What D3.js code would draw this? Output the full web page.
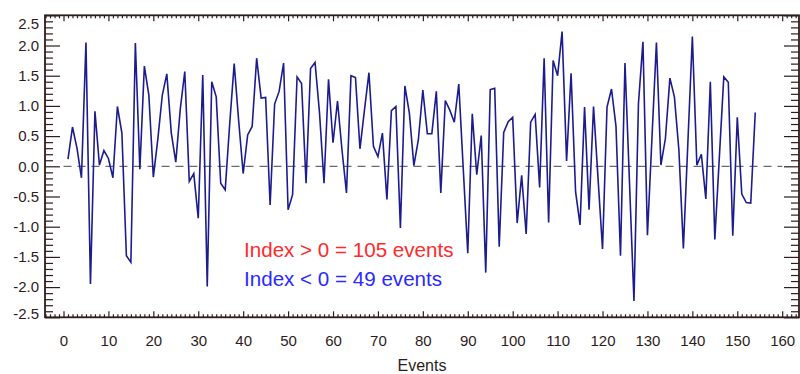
<!DOCTYPE html>
<html>
<head>
<meta charset="utf-8">
<script src="https://cdn.jsdelivr.net/npm/d3@7"></script>
<style>
  body { margin: 0; background: #fff; }
  svg { display: block; font-family: "Liberation Sans", Arial, sans-serif; }
  .tick text { fill: #2e1c1c; font-size: 15px; }
  .tick line { stroke: #2e1c1c; stroke-width: 1.2; }
</style>
</head>
<body>
<svg id="chart" width="800" height="374"></svg>
<script>
// index value per event (events 1..154)
const indexValues = [
  0.12, 0.65, 0.3, -0.19, 2.05, -1.95, 0.91, 0.02, 0.26, 0.13,
  -0.19, 0.99, 0.55, -1.48, -1.59, 2.04, -0.05, 1.66, 1.18, -0.18,
  0.45, 1.18, 1.53, 0.55, 0.07, 0.95, 1.57, -0.25, -0.12, -0.86,
  1.51, -1.99, 1.4, 1.15, -0.28, -0.39, 0.7, 1.7, 0.75, -0.12,
  0.52, 0.66, 1.79, 1.13, 1.14, -0.64, 1.03, 1.24, 1.71, -0.72,
  -0.47, 1.48, 1.37, -0.28, 1.62, 1.72, 0.88, -0.28, 1.44, 0.39,
  1.08, 0.27, -0.44, 1.5, 1.47, 0.29, 0.93, 1.55, 0.33, 0.16,
  0.55, -0.55, 0.92, 0.99, -1.02, 1.33, 0.88, 0.01, 0.44, 1.26,
  0.54, 0.54, 1.24, -0.44, 1.09, 0.93, 0.73, 1.36, -0.05, -1.44,
  0.87, -0.14, 0.51, -1.76, 1.27, 1.29, -1.33, 0.56, 0.74, 0.81,
  -0.94, -0.15, -1.12, 0.73, 0.86, -0.35, 1.79, -0.93, 1.75, 1.5,
  2.23, 0.09, 1.54, -0.42, -0.97, 0.98, -0.72, 0.99, -0.2, -1.37,
  0.98, 1.28, 0.66, -1.48, 1.71, -0.26, -2.23, 1.04, 2.06, -1.14,
  0.46, 2.05, 0.02, 0.46, 1.46, 1.15, 0.27, -1.36, 0.39, 2.15,
  0.02, 0.2, -0.54, 1.4, -1.21, 0.14, 1.48, 1.39, -1.15, 0.81,
  -0.46, -0.6, -0.61, 0.89
];
const xTicks = [0, 10, 20, 30, 40, 50, 60, 70, 80, 90, 100, 110, 120, 130, 140, 150, 160];
const yTicks = [-2.5, -2.0, -1.5, -1.0, -0.5, 0.0, 0.5, 1.0, 1.5, 2.0, 2.5];
const xMinor = d3.range(-4, 164, 1);
const yMinor = d3.range(-25, 26, 1).map(d => d / 10);
const annotations = ["Index > 0 = 105 events", "Index < 0 = 49 events"];

function buildChart() {
    const left = 45, right = 799, top = 15.3, bottom = 317.3;
    const svg = d3.select("#chart");

    // 0 -> 63.5px, 160 -> 782.2px
    const xs = d3.scaleLinear().domain([0, 160]).range([63.5, 782.2]);
    const ys = d3.scaleLinear().domain([-2.5, 2.5]).range([bottom, top]);
    const xMin = xs.invert(left), xMax = xs.invert(right);
    const xMinorIn = xMinor.filter(d => d > xMin && d < xMax && d % 10 != 0);
    const yMinorIn = yMinor.filter(d => Math.round(d * 10) % 5 != 0);

    // zero line
    svg.append("line")
       .attr("x1", xs(0)).attr("x2", xs(160))
       .attr("y1", ys(0)).attr("y2", ys(0))
       .attr("stroke", "#6b6b6b").attr("stroke-width", 1.2)
       .attr("stroke-dasharray", "8,6");

    // data line
    const line = d3.line().x((d, i) => xs(i + 1)).y(d => ys(d));
    svg.append("path").attr("d", line(indexValues))
       .attr("fill", "none").attr("stroke", "#1c1c8e").attr("stroke-width", 1.6)
       .attr("stroke-linejoin", "miter");

    // axes
    const strip = g => g.select(".domain").remove();
    svg.append("g").attr("transform", `translate(${left},0)`)
       .call(d3.axisLeft(ys).tickValues(yMinorIn).tickSize(-8).tickFormat("")).call(strip);
    svg.append("g").attr("transform", `translate(${left},0)`)
       .call(d3.axisLeft(ys).tickValues(yTicks).tickSize(-15).tickPadding(6).tickFormat(d => d.toFixed(1)))
       .call(strip)
       .call(g => g.selectAll("text").attr("y", d => d == 2.5 ? 8 : d == -2.5 ? -4 : 0));
    svg.append("g").attr("transform", `translate(${right},0)`)
       .call(d3.axisRight(ys).tickValues(yMinorIn).tickSize(-8).tickFormat("")).call(strip);
    svg.append("g").attr("transform", `translate(${right},0)`)
       .call(d3.axisRight(ys).tickValues(yTicks).tickSize(-15).tickFormat("")).call(strip);

    svg.append("g").attr("transform", `translate(0,${bottom})`)
       .call(d3.axisBottom(xs).tickValues(xMinorIn).tickSize(-3).tickFormat("")).call(strip);
    svg.append("g").attr("transform", `translate(0,${bottom})`)
       .call(d3.axisBottom(xs).tickValues(xTicks).tickSize(-6).tickPadding(18).tickFormat(d3.format("d")))
       .call(strip);
    svg.append("g").attr("transform", `translate(0,${top})`)
       .call(d3.axisTop(xs).tickValues(xMinorIn).tickSize(-3).tickFormat("")).call(strip);
    svg.append("g").attr("transform", `translate(0,${top})`)
       .call(d3.axisTop(xs).tickValues(xTicks).tickSize(-6).tickFormat("")).call(strip);

    // frame
    svg.append("rect").attr("x", left).attr("y", top)
       .attr("width", right - left).attr("height", bottom - top)
       .attr("fill", "none").attr("stroke", "#2e1c1c").attr("stroke-width", 1.8);

    svg.append("text").attr("x", (left + right) / 2).attr("y", 371)
       .attr("text-anchor", "middle").attr("font-size", 16).attr("fill", "#2e1c1c")
       .text("Events");

    svg.append("text").attr("x", 244).attr("y", 257).attr("font-size", 20.6)
       .attr("fill", "#ff2a2a").text(annotations[0]);
    svg.append("text").attr("x", 244).attr("y", 286).attr("font-size", 20.6)
       .attr("fill", "#2a2aff").text(annotations[1]);
}

buildChart();
</script>
</body>
</html>
